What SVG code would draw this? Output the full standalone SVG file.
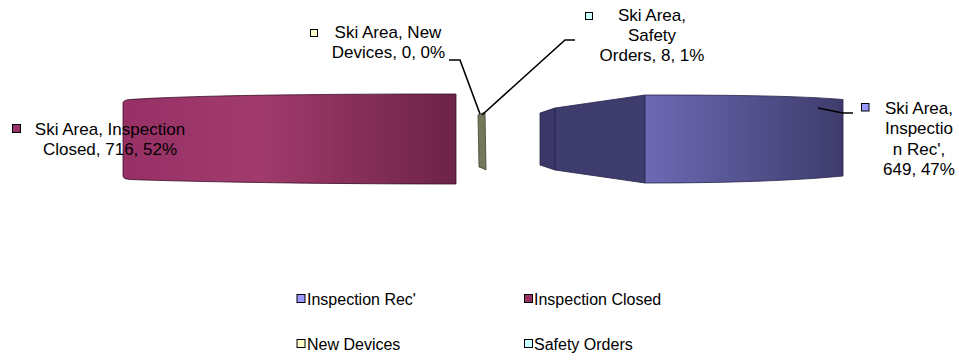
<svg xmlns="http://www.w3.org/2000/svg" width="959" height="360" viewBox="0 0 959 360">
<defs>
<linearGradient id="gMag" x1="0" y1="0" x2="1" y2="0">
<stop offset="0" stop-color="#963065"/>
<stop offset="0.4" stop-color="#a23b6d"/>
<stop offset="1" stop-color="#6c2346"/>
</linearGradient>
<linearGradient id="gBlue" x1="0" y1="0" x2="1" y2="0">
<stop offset="0" stop-color="#6c6ab4"/>
<stop offset="1" stop-color="#3e3b6c"/>
</linearGradient>
<style>
.t{font-family:"Liberation Sans",Arial,sans-serif;font-size:17px;fill:#000;text-anchor:middle}
.lg{font-family:"Liberation Sans",Arial,sans-serif;font-size:16px;fill:#000}
.mk{stroke:#000;stroke-width:1}
.ld{fill:none;stroke:#000;stroke-width:1.6}
</style>
</defs>
<g id="slice-closed">
<path d="M123,103 Q123,100 130,99.5 C200,95 330,94 456,94 L456,184 C330,184 200,182 130,179.5 Q123,179 123,176 Z" fill="url(#gMag)" stroke="#3a1028" stroke-width="0.8"/>
</g>
<g id="slice-newdevices">
<path d="M478,115 L485,112 L486,170 L482,168 L479,167 Z" fill="#737a5c" stroke="#3d4030" stroke-width="0.8"/>
</g>
<g id="slice-rec">
<path d="M540,113 L555,108 L555,170 L540,165 Z" fill="#3b3868" stroke="#26244a" stroke-width="0.8"/>
<path d="M555,108 L645,95 L645,183 L555,170 Z" fill="#3f3c6e" stroke="#26244a" stroke-width="0.8"/>
<path d="M645,95 C740,95 800,96 843,99.5 L843,176 C800,180 740,183 645,183 Z" fill="url(#gBlue)" stroke="#26244a" stroke-width="0.8"/>
</g>
<g id="connectors">
<polyline class="ld" points="449,60 460,60 480,114"/>
<polyline class="ld" points="575,40 565,40 482,115"/>
<polyline class="ld" points="818,108 843,113 853,113"/>
</g>
<g id="label-closed">
<rect class="mk" x="12.5" y="124.5" width="8" height="8" fill="#993366"/>
<text class="t" x="110" y="135">Ski Area, Inspection</text>
<text class="t" x="110" y="154.5">Closed, 716, 52%</text>
</g>
<g id="label-newdevices">
<rect class="mk" x="310.5" y="29.5" width="7" height="7" fill="#ffffcc"/>
<text class="t" x="388" y="38">Ski Area, New</text>
<text class="t" x="388.5" y="58">Devices, 0, 0%</text>
</g>
<g id="label-safety">
<rect class="mk" x="585.5" y="12.5" width="7" height="7" fill="#ccffff"/>
<text class="t" x="652" y="20.5">Ski Area,</text>
<text class="t" x="652" y="40.5">Safety</text>
<text class="t" x="652" y="60.5">Orders, 8, 1%</text>
</g>
<g id="label-rec">
<rect class="mk" x="861.5" y="103.5" width="7.5" height="7.5" fill="#9999ff"/>
<text class="t" x="919" y="113.5">Ski Area,</text>
<text class="t" x="919" y="134">Inspectio</text>
<text class="t" x="919" y="154.5">n Rec',</text>
<text class="t" x="919" y="174.5">649, 47%</text>
</g>
<g id="legend">
<rect class="mk" x="297" y="294.5" width="8" height="8" fill="#9999ff"/>
<text class="lg" x="307" y="305">Inspection Rec'</text>
<rect class="mk" x="524.5" y="294.5" width="8" height="8" fill="#993366"/>
<text class="lg" x="534" y="305">Inspection Closed</text>
<rect class="mk" x="297" y="339.5" width="8" height="8" fill="#ffffcc"/>
<text class="lg" x="307" y="350">New Devices</text>
<rect class="mk" x="524.5" y="339.5" width="8" height="8" fill="#ccffff"/>
<text class="lg" x="534" y="350">Safety Orders</text>
</g>
</svg>
